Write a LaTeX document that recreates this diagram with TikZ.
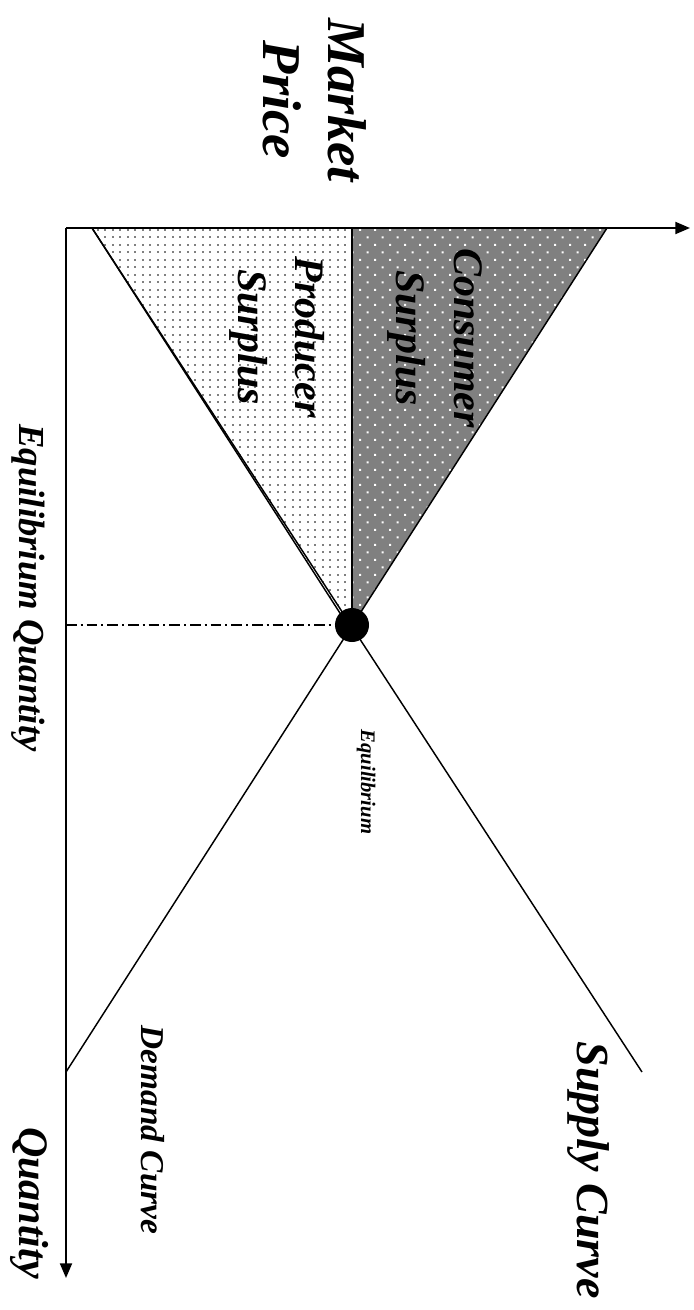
\documentclass[tikz,border=0pt]{standalone}
\usepackage{fontspec}
\setmainfont{Liberation Serif}
\usetikzlibrary{arrows.meta, patterns}
\pgfdeclarepatternformonly{fine dots}{\pgfqpoint{-1pt}{-1pt}}{\pgfqpoint{1pt}{1pt}}{\pgfqpoint{5.625pt}{5.625pt}}{%
  \pgfpathrectangle{\pgfqpoint{-0.75pt}{-0.75pt}}{\pgfqpoint{1.5pt}{1.5pt}}\pgfusepath{fill}}
\pgfdeclarepatternformonly{stagger dots}{\pgfqpoint{-1pt}{-1pt}}{\pgfqpoint{10.25pt}{10.25pt}}{\pgfqpoint{11.25pt}{11.25pt}}{%
  \pgfpathrectangle{\pgfqpoint{-0.75pt}{-0.75pt}}{\pgfqpoint{1.5pt}{1.5pt}}%
  \pgfpathrectangle{\pgfqpoint{4.875pt}{4.875pt}}{\pgfqpoint{1.5pt}{1.5pt}}\pgfusepath{fill}}
\tikzset{
  >={Triangle[length=11pt, width=9pt]},
  axis/.style={->, line width=1.5pt},
  curve/.style={line width=1.1pt},
  eqline/.style={line width=1.1pt, dash pattern=on 8pt off 3pt on 1.5pt off 3pt},
  lbl/.style={rotate=-90, align=center, inner sep=0pt, font=\bfseries\itshape},
}
\newcommand{\fs}[2]{\fontsize{#1}{#2}\selectfont}

\begin{document}
\begin{tikzpicture}[x=0.75pt, y=-0.75pt]
  \useasboundingbox (0,0) rectangle (693,1310);
  % points of the chart
  \coordinate (o) at (66,228);
  \coordinate (qend) at (66,1278);
  \coordinate (pend) at (690,228);
  \coordinate (s0) at (92,228);
  \coordinate (s1) at (642,1072);
  \coordinate (d0) at (607,228);
  \coordinate (d1) at (66,1072);
  \coordinate (e) at (352,625);
  \coordinate (etop) at (352,228);
  % surplus areas
  \fill[pattern=fine dots, pattern color=gray] (s0) -- (etop) -- (347,624) -- cycle;
  \draw[curve] (s0) -- (347,624);
  \fill[gray] (etop) -- (d0) -- (e) -- cycle;
  \fill[pattern=stagger dots, pattern color=white] (etop) -- (d0) -- (e) -- cycle;
  \draw[curve] (etop) -- (e);
  % curves
  \draw[curve] (s0) -- (s1);
  \draw[curve] (d0) -- (d1);
  \draw[eqline] (o |- e) -- (e);
  % axes
  \draw[axis] (o) -- (qend);
  \draw[axis] (o) -- (pend);
  \node[circle, fill=black, minimum size=25.5pt, inner sep=0pt] (eqdot) at (e) {};
  % labels
  \node[lbl, font=\fs{41}{49}\bfseries\itshape] (price) at (315,100) {Market\\Price};
  \node[lbl, font=\fs{31.5}{43}\bfseries\itshape] (cons) at (435,338) {Consumer\\Surplus};
  \node[lbl, font=\fs{31.5}{43}\bfseries\itshape] (prod) at (277,337) {Producer\\Surplus};
  \node[lbl, font=\fs{27.5}{33}\bfseries\itshape] (eqq) at (28,588) {Equilibrium Quantity};
  \node[lbl, font=\fs{31.5}{38}\bfseries\itshape] (qty) at (30,1203) {Quantity};
  \node[lbl, font=\fs{34.5}{40}\bfseries\itshape] (supply) at (588,1170) {Supply Curve};
  \node[lbl, font=\fs{25}{30}\bfseries\itshape] (demand) at (153,1130) {Demand Curve};
  \node[lbl, font=\fs{15.5}{19}\bfseries\itshape] (eqlbl) at (366,782) {Equilibrium};
\end{tikzpicture}
\end{document}
